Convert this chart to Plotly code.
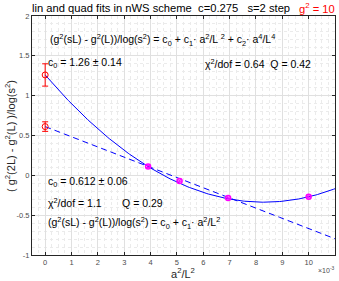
import plotly.graph_objects as go
import numpy as np

# data (x in units of 1e-3)
x_pts = [3.906, 5.102, 6.944, 10.0]
y_pts = [0.11, -0.07, -0.285, -0.27]
y_pts_err = [0.012, 0.01, 0.012, 0.012]

x_ext = [0.0, 0.0]
y_ext = [1.26, 0.612]
y_ext_err = [0.14, 0.06]

quad_coef = [1.26, -0.385, 0.0232]   # c0, c1, c2
lin_coef = [0.612, -0.128]           # c0, c1

x_ticks = [0, 1, 2, 3, 4, 5, 6, 7, 8, 9, 10]
y_ticks = [-1, -0.5, 0, 0.5, 1, 1.5, 2]
y_ticklabels = ["-1", "-0.5", "0", "0.5", "1", "1.5", "2"]

xf = np.linspace(0, 11, 200)
yq = quad_coef[0] + quad_coef[1] * xf + quad_coef[2] * xf**2
yl = lin_coef[0] + lin_coef[1] * xf

FONT = "Liberation Sans, Arial, sans-serif"

fig = go.Figure()
fig.add_trace(go.Scatter(x=xf, y=yq, mode="lines",
                         line=dict(color="#0000ff", width=1), hoverinfo="skip"))
fig.add_trace(go.Scatter(x=xf, y=yl, mode="lines",
                         line=dict(color="#0000ff", width=1, dash="6px,4px"), hoverinfo="skip"))
fig.add_trace(go.Scatter(x=x_pts, y=y_pts, mode="markers",
                         error_y=dict(type="data", array=y_pts_err, color="#ff00ff", thickness=1, width=2),
                         marker=dict(symbol="circle-open", size=5, color="#ff00ff", line=dict(width=1.5))))
fig.add_trace(go.Scatter(x=x_ext, y=y_ext, mode="markers",
                         error_y=dict(type="data", array=y_ext_err, color="#ff0000", thickness=1, width=3),
                         marker=dict(symbol="circle-open", size=6, color="#ff0000", line=dict(width=1))))

ann_font = dict(family=FONT, size=10.5, color="black")
anns = [
    dict(x=0.1, y=1.7, text="(g<sup>2</sup>(sL) - g<sup>2</sup>(L))/log(s<sup>2</sup>) = c<sub>0</sub> + c<sub>1</sub>· a<sup>2</sup>/L <sup>2</sup> + c<sub>2</sub>· a<sup>4</sup>/L<sup>4</sup>"),
    dict(x=0.05, y=1.41, text="c<sub>0</sub> = 1.26 ± 0.14"),
    dict(x=6.0, y=1.41, text="χ<sup>2</sup>/dof = 0.64  Q = 0.42"),
    dict(x=0.05, y=-0.08, text="c<sub>0</sub> = 0.612 ± 0.06"),
    dict(x=0.05, y=-0.34, text="χ<sup>2</sup>/dof = 1.1       Q = 0.29"),
    dict(x=0.05, y=-0.6, text="(g<sup>2</sup>(sL) - g<sup>2</sup>(L))/log(s<sup>2</sup>) = c<sub>0</sub> + c<sub>1</sub>· a<sup>2</sup>/L<sup>2</sup>"),
]
annotations = []
for a in anns:
    annotations.append(dict(x=a["x"], y=a["y"], xref="x", yref="y", text=a["text"],
                            xanchor="left", yanchor="middle", showarrow=False, font=ann_font))

W, H = 339, 281
L, R, T, B = 32, 4, 16, 26
def px(x):
    return (x - L) / (W - L - R)
def py(y):
    return 1 - (y - T) / (H - T - B)

annotations += [
    dict(x=px(30), y=py(8), text="lin and quad fits in nWS scheme  c=0.275   s=2 step",
         xanchor="left", font=dict(family=FONT, size=11.2, color="black")),
    dict(x=px(337), y=py(8), text="g<sup>2</sup> = 10",
         xanchor="right", font=dict(family=FONT, size=11.2, color="#ff0000")),
    dict(x=px(337), y=py(270), text="×10<sup>-3</sup>",
         xanchor="right", font=dict(family=FONT, size=7, color="#4d4d4d")),
    dict(x=px(183), y=py(273), text="a<sup>2</sup>/L<sup>2</sup>",
         xanchor="center", font=dict(family=FONT, size=11, color="#262626")),
    dict(x=px(10), y=py(136), text="( g<sup>2</sup>(2L) - g<sup>2</sup>(L) )/log(s<sup>2</sup>)", textangle=-90,
         xanchor="center", font=dict(family=FONT, size=11, color="#262626")),
]
for a in annotations[len(anns):]:
    a.update(xref="paper", yref="paper", showarrow=False, yanchor="middle")

axis_common = dict(showline=True, linecolor="#262626", linewidth=1, mirror="ticks",
                   ticks="inside", ticklen=3, tickcolor="#262626", zeroline=False,
                   showgrid=True, gridcolor="#e0e0e0", gridwidth=1, automargin=False,
                   tickfont=dict(family=FONT, size=7.5, color="#4d4d4d"))

fig.update_layout(
    width=W, height=H, margin=dict(l=L, r=R, t=T, b=B),
    paper_bgcolor="white", plot_bgcolor="white", showlegend=False,
    annotations=annotations,
    xaxis=dict(range=[-0.5, 11], tickvals=x_ticks, ticktext=[str(t) for t in x_ticks],
               minor=dict(dtick=0.25, tick0=0, showgrid=True, gridcolor="#ebebeb", griddash="dot", ticks=""),
               **axis_common),
    yaxis=dict(range=[-1, 2], tickvals=y_ticks, ticktext=y_ticklabels,
               minor=dict(dtick=0.1, tick0=0, showgrid=True, gridcolor="#ebebeb", griddash="dot", ticks=""),
               **axis_common),
)

fig.write_html("out.html", config={"displayModeBar": False},
               post_script="document.body.style.margin='0px';document.body.style.overflow='hidden';")
